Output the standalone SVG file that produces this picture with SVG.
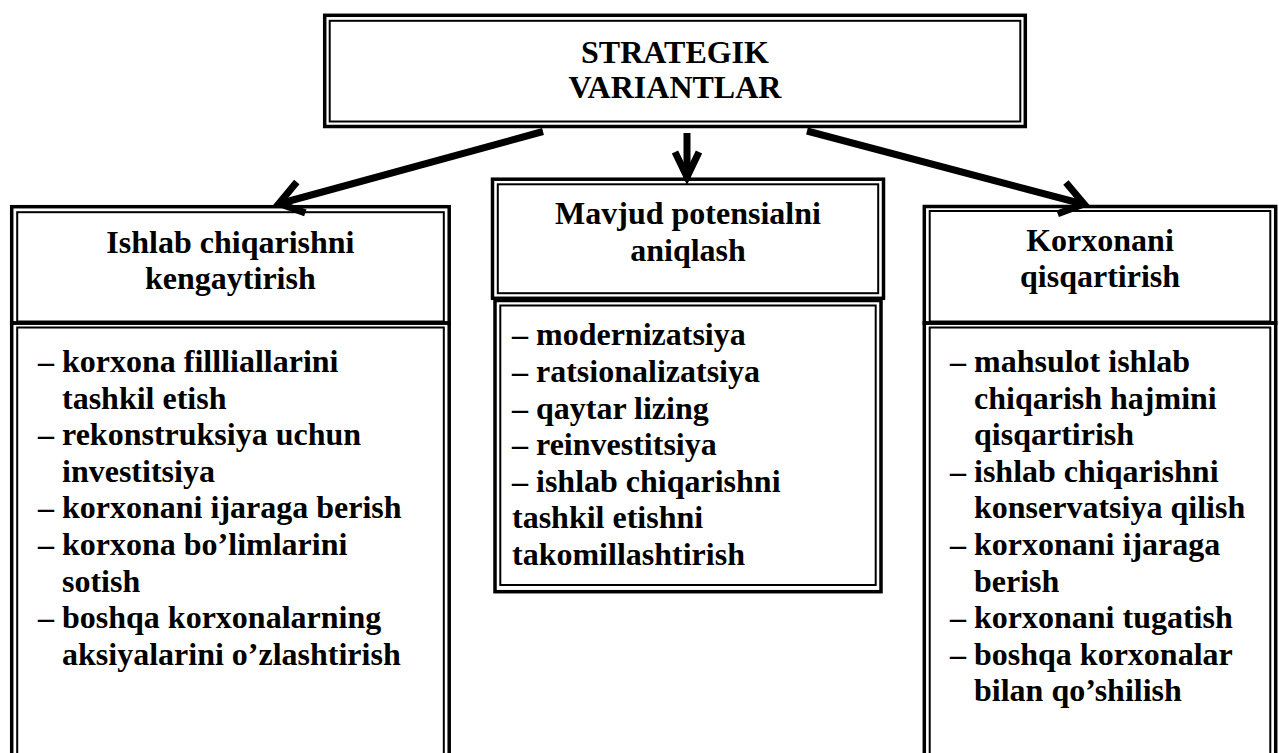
<svg xmlns="http://www.w3.org/2000/svg" width="1279" height="753" viewBox="0 0 1279 753">
<style>
.o{fill:none;stroke:#000;stroke-width:3.5}
.i{fill:none;stroke:#000;stroke-width:2}
.t{font-family:"Liberation Serif","Times New Roman",serif;font-weight:bold;font-size:32px;fill:#000}
.c{text-anchor:middle}
.a{fill:none;stroke:#000;stroke-width:7;stroke-linejoin:miter;stroke-miterlimit:10}
</style>
<rect width="1279" height="753" fill="#fff"/>
<g id="strategik">
<rect class="o" x="324.7" y="15.3" width="700.6" height="111.2"/>
<rect class="i" x="329.7" y="20.8" width="690.6" height="100.7"/>
<text class="t c" x="675" y="63.3">STRATEGIK</text>
<text class="t c" x="675" y="98.3">VARIANTLAR</text>
</g>
<g id="kengaytirish">
<rect class="o" x="11.7" y="206.7" width="437.5" height="116.3"/>
<rect class="i" x="17.2" y="212.2" width="426.6" height="109.3"/>
<rect class="o" x="11.7" y="323" width="437.5" height="460"/>
<rect class="i" x="17.2" y="327.5" width="426.6" height="460"/>
<text class="t c" x="230.4" y="252.5">Ishlab chiqarishni</text>
<text class="t c" x="230.4" y="289">kengaytirish</text>
<text class="t" x="38" y="372">– korxona fillliallarini</text>
<text class="t" x="62" y="408.6">tashkil etish</text>
<text class="t" x="38" y="445.2">– rekonstruksiya uchun</text>
<text class="t" x="62" y="481.8">investitsiya</text>
<text class="t" x="38" y="518.4">– korxonani ijaraga berish</text>
<text class="t" x="38" y="555">– korxona bo’limlarini</text>
<text class="t" x="62" y="591.6">sotish</text>
<text class="t" x="38" y="628.2">– boshqa korxonalarning</text>
<text class="t" x="62" y="664.8">aksiyalarini o’zlashtirish</text>
</g>
<g id="potensial">
<rect class="o" x="492.5" y="179.2" width="391" height="119.1"/>
<rect class="i" x="497.8" y="184.3" width="380.4" height="108.9"/>
<rect class="o" x="495" y="300.5" width="386" height="291.2"/>
<rect class="i" x="500.3" y="305.5" width="375.4" height="279.5"/>
<text class="t c" x="688" y="224.3">Mavjud potensialni</text>
<text class="t c" x="688" y="260.5">aniqlash</text>
<text class="t" x="512" y="345.4">– modernizatsiya</text>
<text class="t" x="512" y="382">– ratsionalizatsiya</text>
<text class="t" x="512" y="418.6">– qaytar lizing</text>
<text class="t" x="512" y="455.2">– reinvestitsiya</text>
<text class="t" x="512" y="491.8">– ishlab chiqarishni</text>
<text class="t" x="512" y="528.4">tashkil etishni</text>
<text class="t" x="512" y="565">takomillashtirish</text>
</g>
<g id="qisqartirish">
<rect class="o" x="924.3" y="206.5" width="351.4" height="116.5"/>
<rect class="i" x="929.7" y="211" width="340.6" height="110.5"/>
<rect class="o" x="924.3" y="323" width="351.4" height="460"/>
<rect class="i" x="929.7" y="327.5" width="340.6" height="460"/>
<text class="t c" x="1100" y="250.5">Korxonani</text>
<text class="t c" x="1100" y="287">qisqartirish</text>
<text class="t" x="950" y="372">– mahsulot ishlab</text>
<text class="t" x="974" y="408.6">chiqarish hajmini</text>
<text class="t" x="974" y="445.2">qisqartirish</text>
<text class="t" x="950" y="481.8">– ishlab chiqarishni</text>
<text class="t" x="974" y="518.4">konservatsiya qilish</text>
<text class="t" x="950" y="555">– korxonani ijaraga</text>
<text class="t" x="974" y="591.6">berish</text>
<text class="t" x="950" y="628.2">– korxonani tugatish</text>
<text class="t" x="950" y="664.8">– boshqa korxonalar</text>
<text class="t" x="974" y="701.4">bilan qo’shilish</text>
</g>
<g id="connectors">
<line class="a" x1="543" y1="131.5" x2="282" y2="203"/>
<polyline class="a" points="296.8,182 279,203.5 305.3,212.9"/>
<line class="a" x1="687" y1="133" x2="687" y2="178"/>
<polyline class="a" points="675,152 687,177 699,152"/>
<line class="a" x1="807" y1="131" x2="1081" y2="203.5"/>
<polyline class="a" points="1065.9,182.6 1084,204 1057.7,213.7"/>
</g>
</svg>
